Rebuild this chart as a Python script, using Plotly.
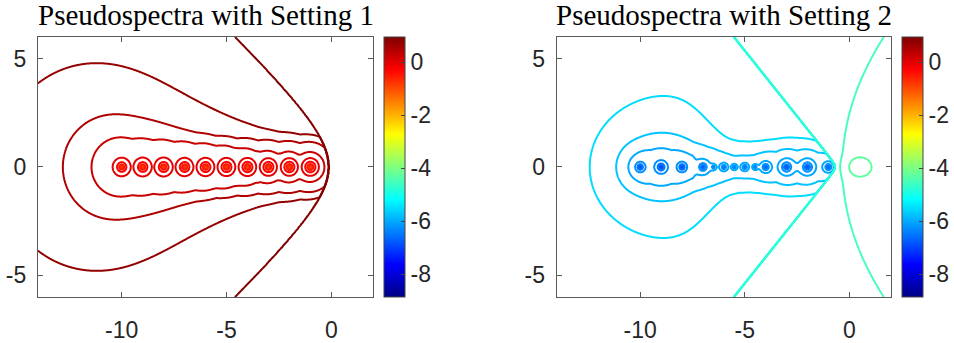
import numpy as np
import plotly.graph_objects as go

# ---------------- data ----------------
# Setting 1: eigenvalues and their sensitivity radius (radius of the log10(eps)=0 ring)
eig1 = np.array([-10, -9, -8, -7, -6, -5, -4, -3, -2, -1], dtype=float)
kap1 = np.array([0.38, 0.39, 0.40, 0.40, 0.41, 0.42, 0.43, 0.43, 0.44, 0.45])
# Setting 2: eigenvalues (incl. weak ones) and radius of the log10(eps)=-6 ring
eig2 = np.array([-10, -9, -8, -7, -6.5, -6, -5.5, -5, -4.5, -4, -3, -2, -1], dtype=float)
kap2 = np.array([0.40, 0.50, 0.40, 0.30, 0.10, 0.17, 0.12, 0.17, 0.10, 0.25, 0.38, 0.38, 0.25])

levels1 = dict(start=-9.0, end=1.0, size=0.25)     # log10(eps) contour levels
levels2 = dict(start=-9.0, end=-4.25, size=0.25)
cbar_range = [-8.85, 0.95]
cbar_ticks = [-8, -6, -4, -2, 0]
cbar_text = ["-8", "-6", "-4", "-2", "0"]
x_ticks = [-10, -5, 0]
x_text = ["-10", "-5", "0"]
y_ticks = [-5, 0, 5]
y_text = ["-5", "0", "5"]
x_range = [-14, 2]
y_range = [-6, 6]
titles = ["Pseudospectra with Setting 1", "Pseudospectra with Setting 2"]

# ---------------- grid ----------------
xs = np.linspace(x_range[0], x_range[1], 641)
ys = np.linspace(y_range[0], y_range[1], 481)
X, Y = np.meshgrid(xs, ys)


def jet(t):
    t = np.clip(t, 0, 1)
    r = np.interp(t, [0, 3/8, 5/8, 7/8, 1], [0, 0, 1, 1, 0.5])
    g = np.interp(t, [0, 1/8, 3/8, 5/8, 7/8, 1], [0, 0, 1, 1, 0, 0])
    b = np.interp(t, [0, 1/8, 3/8, 5/8, 1], [0.52, 1, 1, 0, 0])
    return r, g, b


def rgb(t):
    r, g, b = jet(t)
    return "rgb(%d,%d,%d)" % (round(255 * r), round(255 * g), round(255 * b))


jet_scale = [[float(t), rgb(t)] for t in np.linspace(0, 1, 65)]


def level_scale(lv):
    vals = np.linspace(lv["start"], lv["end"], 81)
    out = []
    for v in vals:
        frac = (v - lv["start"]) / (lv["end"] - lv["start"])
        out.append([float(frac), rgb((v - cbar_range[0]) / (cbar_range[1] - cbar_range[0]))])
    return out


def local_field(eig, kap, p, base, t_amp, t_c, t_w, t_off, phi_r, sat, ksat=6.0,
                t_lin=0.0, dip=0.0, dip_r=1.05, dip_w=0.35):
    d = np.sqrt((X[..., None] - eig) ** 2 + Y[..., None] ** 2) + 1e-9
    s = np.sum((d / kap) ** (-p), axis=-1) ** (-1.0 / p)
    f = np.log10(s) + base
    dmin = d.min(axis=-1)
    phi = 1 - np.exp(-(dmin / phi_r) ** 2)
    tau = t_amp * np.tanh((X - t_c) / t_w) + t_lin * (X - t_c) + t_off
    f = f + tau * phi - dip * np.exp(-((dmin - dip_r) / dip_w) ** 2)
    f = np.maximum(f, -9.8)
    # saturation of the far field
    f = -np.log10(10 ** (-ksat * (f - sat)) + 1.0) / ksat + sat
    return f


def blend(f_left, f_right, xw, delta=0.002):
    w = 0.5 * (1 + np.tanh((X - xw) / (2 * delta)))
    return f_left * (1 - w) + f_right * w


# Setting 1 field
fl1 = local_field(eig1, kap1, p=10, base=0.0, t_amp=0.33, t_c=-5, t_w=5, t_off=0.03,
                  t_lin=0.012, phi_r=1.0, sat=0.95, dip=0.14)
xw1 = -0.12 - 1.08 * (np.sqrt(Y ** 2 + 2.3 ** 2) - 2.3)
F1 = blend(fl1, 2.0, xw1)

# Setting 2 field
fl2 = local_field(eig2, kap2, p=2, base=-6.0, t_amp=0.12, t_c=-6.8, t_w=1.3, t_off=0.035,
                  phi_r=0.7, sat=-5.28, dip=0.08, dip_r=0.75, dip_w=0.3)
xw2 = -0.68 - (np.sqrt(Y ** 2 + 0.15 ** 2) - 0.15) / 1.21
fr2 = (-4.5 + 0.15 * np.tanh((X - (-0.33 + 0.055 * Y ** 2)) / 0.5)
       + 0.3 * np.exp(-((X - 0.45) / 0.59) ** 2 - (Y / 0.45) ** 2))
F2 = blend(fl2, fr2, xw2)

fig = go.Figure()
doms_x = [[38 / 954, 374 / 954], [557.7 / 954, 893 / 954]]
dom_y = [1 - 306 / 343, 1 - 38 / 343]
cbar_x = [385 / 954, 904 / 954]

for k, (F, lv) in enumerate([(F1, levels1), (F2, levels2)]):
    xa = "x" if k == 0 else "x2"
    ya = "y" if k == 0 else "y2"
    fig.add_trace(go.Contour(
        x=xs, y=ys, z=F.astype(np.float32), xaxis=xa, yaxis=ya,
        autocontour=False,
        contours=dict(coloring="lines", start=lv["start"], end=lv["end"], size=lv["size"]),
        line=dict(width=2), colorscale=level_scale(lv), showscale=False,
        hoverinfo="skip"))
    fig.add_trace(go.Scatter(
        x=[1000], y=[1000], xaxis=xa, yaxis=ya, mode="markers", showlegend=False,
        hoverinfo="skip",
        marker=dict(color=[0], colorscale=jet_scale, cmin=cbar_range[0], cmax=cbar_range[1],
                    showscale=True,
                    colorbar=dict(x=cbar_x[k], xanchor="left", y=(dom_y[0] + dom_y[1]) / 2,
                                  yanchor="middle", len=dom_y[1] - dom_y[0], lenmode="fraction",
                                  thickness=21, thicknessmode="pixels",
                                  outlinewidth=1, outlinecolor="#444444",
                                  tickvals=cbar_ticks, ticktext=cbar_text,
                                  ticks="inside", ticklen=4, tickcolor="#444444",
                                  tickfont=dict(family="Liberation Sans, Arial", size=23,
                                                color="#262626"),
                                  xpad=0, ypad=0))))

axis_common = dict(showgrid=False, zeroline=False, showline=True, linecolor="#5a5a5a",
                   linewidth=1, mirror="allticks", ticks="inside", ticklen=5,
                   tickcolor="#5a5a5a",
                   tickfont=dict(family="Liberation Sans, Arial", size=23, color="#262626"))

fig.update_layout(
    width=954, height=343, margin=dict(l=0, r=0, t=0, b=0),
    paper_bgcolor="white", plot_bgcolor="white", showlegend=False,
    xaxis=dict(domain=doms_x[0], range=x_range, tickvals=x_ticks, ticktext=x_text,
               anchor="y", ticklabelstandoff=12, **axis_common),
    yaxis=dict(domain=dom_y, range=y_range, tickvals=y_ticks, ticktext=y_text,
               anchor="x", ticklabelstandoff=6, **axis_common),
    xaxis2=dict(domain=doms_x[1], range=x_range, tickvals=x_ticks, ticktext=x_text,
                anchor="y2", ticklabelstandoff=12, **axis_common),
    yaxis2=dict(domain=dom_y, range=y_range, tickvals=y_ticks, ticktext=y_text,
                anchor="x2", ticklabelstandoff=6, **axis_common),
)

for k in range(2):
    fig.add_annotation(text=titles[k], xref="paper", yref="paper",
                       x=(doms_x[k][0] + doms_x[k][1]) / 2, y=1 - 15 / 343,
                       xanchor="center", yanchor="middle", showarrow=False,
                       font=dict(family="Liberation Serif, Times New Roman, serif", size=29,
                                 color="black"))

fig.write_html("out.html")
